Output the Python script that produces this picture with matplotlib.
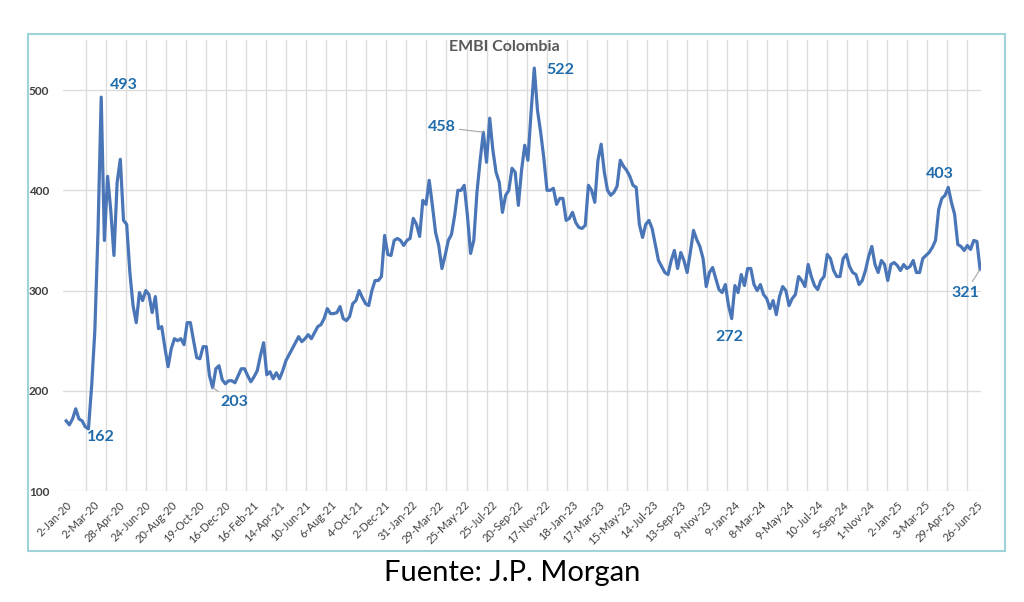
import matplotlib.pyplot as plt
import matplotlib.dates as mdates
from matplotlib.patches import Rectangle
import pandas as pd

plt.rcParams['font.family'] = ['Lato', 'DejaVu Sans']

# EMBI Colombia, weekly readings taken off the chart (bp)
embi = [
    170, 166, 172, 182, 172, 170, 164, 162, 205, 260, 360, 493, 350, 414, 380, 335, 408, 431, 370, 366,
    318, 285, 268, 298, 290, 300, 296, 278, 294, 262, 264, 243, 224, 242, 252,
    250, 252, 246, 268, 268, 250, 233, 232, 244, 244, 215, 203, 222, 225, 211, 207, 210, 210, 208, 215,
    222, 222, 215, 209, 214, 220, 235, 248, 216, 219, 212, 218, 212, 220, 230, 236,
    242, 248, 254, 249, 252, 256, 252, 258, 264, 266, 272, 282, 277, 277, 278, 284, 272, 270, 274, 287,
    290, 300, 293, 287, 285, 300, 310, 310, 314, 355, 336, 335, 350, 352, 350, 345,
    350, 352, 372, 366, 354, 390, 386, 410, 385, 358, 345, 322, 335, 350, 356, 375, 400, 400, 405, 375,
    337, 350, 398, 430, 458, 428, 472, 440, 418, 408, 378, 395, 400, 422, 418, 385,
    420, 445, 430, 478, 522, 480, 458, 432, 400, 400, 402, 386, 392, 392, 370, 372, 378, 368, 363, 362,
    365, 405, 400, 388, 430, 446, 418, 400, 395, 398, 404, 430, 424, 420, 414, 405,
    403, 366, 353, 366, 370, 362, 346, 330, 324, 318, 316, 330, 340, 322, 338, 330, 318, 338, 360, 351,
    344, 332, 304, 318, 323, 312, 301, 298, 306, 285, 272, 305, 298, 316, 305, 322,
    322, 306, 300, 306, 296, 292, 282, 290, 276, 294, 304, 300, 285, 292, 296, 314, 310, 304, 326, 314,
    305, 301, 310, 314, 336, 332, 320, 314, 314, 332, 336, 324, 318, 316, 306, 310,
    320, 334, 344, 326, 318, 330, 326, 310, 326, 328, 325, 320, 326, 322, 324, 330, 318, 318, 332, 335,
    338, 343, 350, 381, 392, 395, 403, 388, 376, 346, 344, 340, 345, 341, 350, 349, 321,
]
dates = pd.date_range('2020-01-02', periods=len(embi), freq='7D')

tick_labels = [
    '2-Jan-20', '2-Mar-20', '28-Apr-20', '24-Jun-20', '20-Aug-20', '19-Oct-20', '16-Dec-20',
    '16-Feb-21', '14-Apr-21', '10-Jun-21', '6-Aug-21', '4-Oct-21', '2-Dec-21', '31-Jan-22',
    '29-Mar-22', '25-May-22', '25-Jul-22', '20-Sep-22', '17-Nov-22', '18-Jan-23', '17-Mar-23',
    '15-May-23', '14-Jul-23', '13-Sep-23', '9-Nov-23', '9-Jan-24', '8-Mar-24', '9-May-24',
    '10-Jul-24', '5-Sep-24', '1-Nov-24', '2-Jan-25', '3-Mar-25', '29-Apr-25', '26-Jun-25',
]
tick_dates = pd.to_datetime(tick_labels, format='%d-%b-%y')
grid_dates = pd.date_range('2020-01-02', '2025-07-05', freq='44D')

# labelled points: (index into embi, text offset in pixels, ha, leader line)
callouts = [
    (11, (9, 12), 'left', False),
    (7, (12, -8), 'center', False),
    (46, (8, -14), 'left', True),
    (131, (-28, 5), 'right', True),
    (147, (12, -2), 'left', False),
    (209, (-2, -18), 'center', False),
    (277, (-8, 13), 'center', False),
    (287, (-15, -23), 'center', True),
]

line_color = '#4a76b8'
label_color = '#1f6bab'
grid_color = '#dcdcdc'
text_color = '#404040'

fig = plt.figure(figsize=(10.24, 6.02), dpi=100)
ax = fig.add_axes([63 / 1024, 1 - 491 / 602, (981 - 63) / 1024, (491 - 40) / 602])

ax.plot(dates, embi, color=line_color, lw=2.3)

ax.set_ylim(100, 550)
ax.set_yticks([100, 200, 300, 400, 500])
ax.set_xlim(dates[0] - pd.Timedelta(days=7), dates[-1] + pd.Timedelta(days=2))
ax.set_xticks(tick_dates)
ax.set_xticklabels(tick_labels, rotation=45, ha='right', rotation_mode='anchor')
ax.set_xticks(grid_dates, minor=True)

ax.grid(axis='y', which='major', color=grid_color, lw=1)
ax.grid(axis='x', which='minor', color=grid_color, lw=1)
ax.grid(axis='x', which='major', visible=False)
ax.set_axisbelow(True)
ax.tick_params(axis='both', which='both', length=0)
ax.tick_params(axis='x', labelsize=8, labelcolor=text_color, pad=6)
ax.tick_params(axis='y', labelsize=8.5, labelcolor=text_color, pad=10)
for lab in ax.get_yticklabels():
    lab.set_fontweight('bold')
for s in ax.spines.values():
    s.set_visible(False)

for idx, off, ha, leader in callouts:
    props = None
    if leader:
        props = dict(arrowstyle='-', color='#a6a6a6', lw=0.8, shrinkA=1, shrinkB=0)
    ax.annotate(str(embi[idx]), xy=(dates[idx], embi[idx]), xytext=off,
                textcoords='offset pixels', ha=ha, va='center',
                fontsize=11.5, fontweight='bold', color=label_color, arrowprops=props)

fig.text(504 / 1024, 1 - 47 / 602, 'EMBI Colombia', ha='center', va='center',
         fontsize=11.5, fontweight='bold', color='#595959')

fig.patches.append(Rectangle((28 / 1024, 1 - 551 / 602), (1005 - 28) / 1024, (551 - 34) / 602,
                             transform=fig.transFigure, fill=False, edgecolor='#9ed3da', lw=1.5))

fig.text(0.5, 1 - 573 / 602, 'Fuente: J.P. Morgan', ha='center', va='center',
         fontsize=21, color='black')

plt.savefig('out.png', dpi=100)
